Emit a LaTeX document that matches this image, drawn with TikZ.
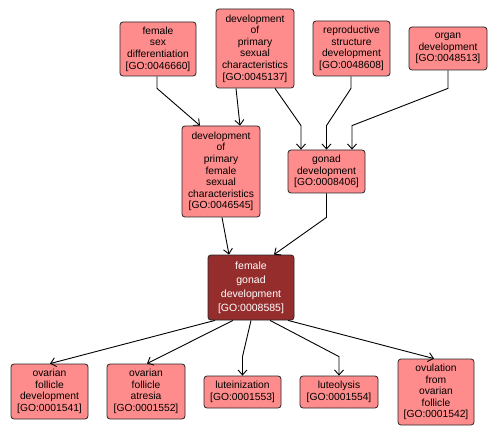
\documentclass[tikz,border=0pt]{standalone}
\usepackage{fontspec}
\setmainfont{Liberation Sans}
\usetikzlibrary{arrows.meta}
\definecolor{salmon}{RGB}{255,140,140}
\definecolor{darkred}{RGB}{150,45,45}
\tikzset{
  box/.style={draw=black!85, line width=0.8pt, fill=salmon, rounded corners=3pt, inner sep=0pt, align=center, font=\fontsize{10.3}{11.6}\selectfont},
  mainbox/.style={box, fill=darkred, text=white, font=\fontsize{10.5}{14}\selectfont},
  link/.style={draw=black, line width=0.9pt, -{Straight Barb[length=5pt,width=9pt,line width=0.9pt]}}
}
\begin{document}
\begin{tikzpicture}[x=1pt,y=-1pt]
\useasboundingbox (0,0) rectangle (499,436);
\fill[white] (0,0) rectangle (499,436);
% top row
\node[box, minimum width=76pt, minimum height=54pt] (fsd) at (158,49) {female\\sex\\differentiation\\{[GO:0046660]}};
\node[box, minimum width=78pt, minimum height=79pt] (dps) at (255,48.5) {development\\of\\primary\\sexual\\characteristics\\{[GO:0045137]}};
\node[box, minimum width=77pt, minimum height=55pt] (rsd) at (351.5,48.5) {reproductive\\structure\\development\\{[GO:0048608]}};
\node[box, minimum width=78pt, minimum height=43pt] (org) at (448,48.5) {organ\\development\\{[GO:0048513]}};
% middle
\node[box, minimum width=78pt, minimum height=91pt] (dpf) at (221,171.5) {development\\of\\primary\\female\\sexual\\characteristics\\{[GO:0046545]}};
\node[box, minimum width=77pt, minimum height=43pt] (gon) at (326.5,171.5) {gonad\\development\\{[GO:0008406]}};
% main
\node[mainbox, minimum width=86pt, minimum height=65pt] (fgd) at (251,287.5) {female\\gonad\\development\\{[GO:0008585]}};
% bottom
\node[box, minimum width=77pt, minimum height=55pt] (ofd) at (49.5,391.5) {ovarian\\follicle\\development\\{[GO:0001541]}};
\node[box, minimum width=78pt, minimum height=55pt] (ofa) at (146,391.5) {ovarian\\follicle\\atresia\\{[GO:0001552]}};
\node[box, minimum width=77pt, minimum height=32pt] (lut) at (242.5,392) {luteinization\\{[GO:0001553]}};
\node[box, minimum width=78pt, minimum height=32pt] (lys) at (339,392) {luteolysis\\{[GO:0001554]}};
\node[box, minimum width=76pt, minimum height=66pt] (ovu) at (436,392) {ovulation\\from\\ovarian\\follicle\\{[GO:0001542]}};
% edges
\draw[link] ([xshift=-1pt]fsd.south) -- ++(0,12) -- ([xshift=-21pt]dpf.north);
\draw[link] ([xshift=-19pt]dps.south) -- ([xshift=19pt]dpf.north);
\draw[link] ([xshift=20pt]dps.south) -- ([xshift=-25.5pt,yshift=24pt]gon.north) -- ([xshift=-25.5pt]gon.north);
\draw[link] ([xshift=-0.5pt]rsd.south) -- ++(0,12) -- ([yshift=24pt]gon.north) -- (gon.north);
\draw[link] (org.south) -- ++(0,18) -- ([xshift=25.5pt,yshift=24pt]gon.north) -- ([xshift=25.5pt]gon.north);
\draw[link] ([xshift=1pt]dpf.south) -- ([xshift=-22pt]fgd.north);
\draw[link] (gon.south) -- ++(0,24) -- ([xshift=23pt]fgd.north);
\draw[link] ([xshift=-36pt]fgd.south) -- ([xshift=0.5pt]ofd.north);
\draw[link] ([xshift=-18pt]fgd.south) -- ([xshift=1pt]ofa.north);
\draw[link] (fgd.south) -- ([yshift=19pt]lut.north) -- (lut.north);
\draw[link] ([xshift=19pt]fgd.south) -- ([yshift=19pt]lys.north) -- (lys.north);
\draw[link] ([xshift=37pt]fgd.south) -- ([xshift=-2pt]ovu.north);
\end{tikzpicture}
\end{document}
